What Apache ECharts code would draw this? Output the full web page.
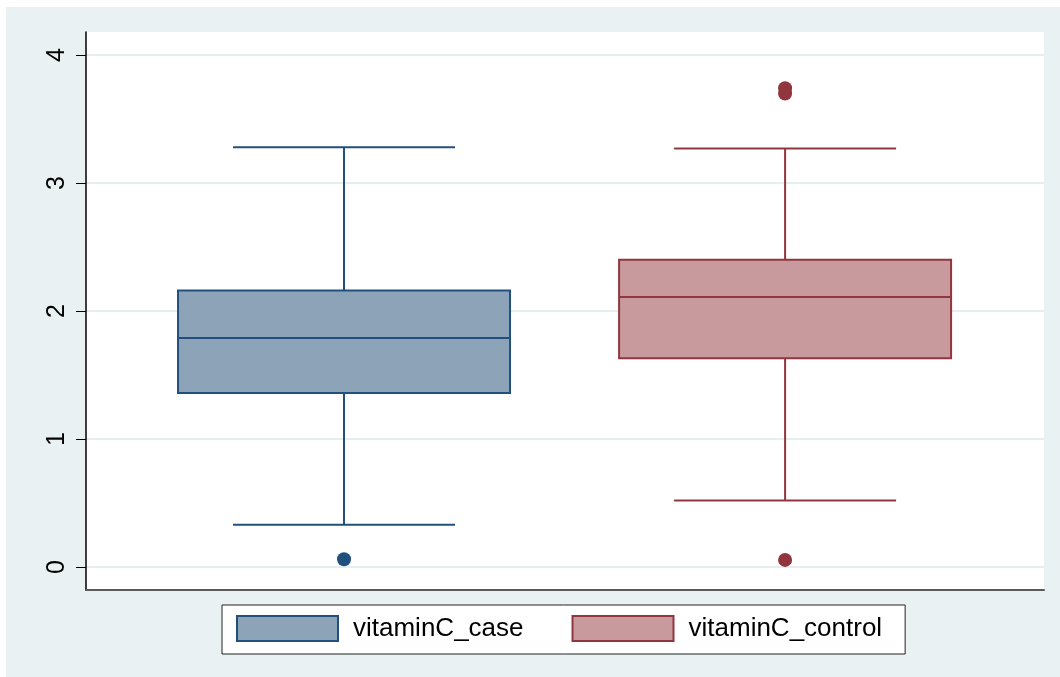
<!DOCTYPE html>
<html>
<head>
<meta charset="utf-8">
<script src="https://cdn.jsdelivr.net/npm/echarts@6/dist/echarts.min.js"></script>
<style>
  html, body { margin: 0; padding: 0; background: #ffffff; }
  #main { position: absolute; left: 6px; top: 7px; width: 1054px; height: 670px; }
</style>
</head>
<body>
<div id="main"></div>
<script>
// data
var categories = ['vitaminC_case', 'vitaminC_control'];
var lowerWhisker = [0.33, 0.52];
var q1 = [1.36, 1.63];
var median = [1.79, 2.11];
var q3 = [2.16, 2.40];
var upperWhisker = [3.28, 3.27];
var outliersCase = [0.06];
var outliersControl = [3.74, 3.70, 0.055];
var yTicks = [0, 1, 2, 3, 4];

var fills = ['#8da4b8', '#c99a9d'];
var lines = ['#22507e', '#91363e'];

function boxItem(i) {
    return [i, lowerWhisker[i], q1[i], median[i], q3[i], upperWhisker[i]];
}

function renderBox(params, api) {
    var x = api.value(0);
    var pLow = api.coord([x, api.value(1)]);
    var pQ1 = api.coord([x, api.value(2)]);
    var pMed = api.coord([x, api.value(3)]);
    var pQ3 = api.coord([x, api.value(4)]);
    var pHigh = api.coord([x, api.value(5)]);
    var cx = pMed[0];
    var half = 166, cap = 111;
    var color = lines[x];
    var ls = { stroke: color, lineWidth: 2 };
    return {
        type: 'group',
        children: [
            { type: 'line', shape: { x1: cx, y1: pQ3[1], x2: cx, y2: pHigh[1] }, style: ls },
            { type: 'line', shape: { x1: cx, y1: pQ1[1], x2: cx, y2: pLow[1] }, style: ls },
            { type: 'line', shape: { x1: cx - cap, y1: pHigh[1], x2: cx + cap, y2: pHigh[1] }, style: ls },
            { type: 'line', shape: { x1: cx - cap, y1: pLow[1], x2: cx + cap, y2: pLow[1] }, style: ls },
            { type: 'rect', shape: { x: cx - half, y: pQ3[1], width: half * 2, height: pQ1[1] - pQ3[1] },
              style: { fill: fills[x], stroke: color, lineWidth: 2 } },
            { type: 'line', shape: { x1: cx - half, y1: pMed[1], x2: cx + half, y2: pMed[1] }, style: ls }
        ]
    };
}

var chart = echarts.init(document.getElementById('main'));

var option = {
    backgroundColor: '#e9f1f3',
    animation: false,
    grid: {
        left: 80, top: 25, right: 16, bottom: 87,
        show: true, backgroundColor: '#ffffff', borderWidth: 0
    },
    xAxis: {
        type: 'value',
        min: -0.585,
        max: 1.587,
        axisLine: { show: true, onZero: false, lineStyle: { color: '#5a5a5a', width: 2 } },
        axisTick: { show: false },
        axisLabel: { show: false },
        splitLine: { show: false }
    },
    yAxis: {
        type: 'value',
        min: -0.18,
        max: 4.18,
        axisLine: { show: true, onZero: false, lineStyle: { color: '#000000', width: 1.5 } },
        axisTick: { show: true, length: 10, customValues: yTicks, lineStyle: { color: '#000000', width: 1 } },
        axisLabel: {
            customValues: yTicks,
            rotate: 90,
            margin: 16,
            color: '#000000',
            fontSize: 25,
            fontFamily: 'Liberation Sans, Arial, sans-serif'
        },
        splitLine: { show: true, lineStyle: { color: '#e6eef0', width: 2 } }
    },
    legend: {
        left: 216,
        top: 598,
        orient: 'horizontal',
        backgroundColor: '#ffffff',
        borderColor: '#222222',
        borderWidth: 1,
        padding: [10, 23, 12, 14],
        itemWidth: 101,
        itemHeight: 25,
        itemGap: 48,
        icon: 'rect',
        textStyle: {
            color: '#000000',
            fontSize: 26,
            fontFamily: 'Liberation Sans, Arial, sans-serif',
            padding: [0, 0, 0, 10]
        },
        data: [
            { name: categories[0], itemStyle: { color: fills[0], borderColor: lines[0], borderWidth: 2 } },
            { name: categories[1], itemStyle: { color: fills[1], borderColor: lines[1], borderWidth: 2 } }
        ]
    },
    series: [
        {
            name: categories[0],
            type: 'custom',
            renderItem: renderBox,
            encode: { x: 0, y: [1, 2, 3, 4, 5] },
            itemStyle: { color: fills[0] },
            data: [boxItem(0)]
        },
        {
            name: categories[1],
            type: 'custom',
            renderItem: renderBox,
            encode: { x: 0, y: [1, 2, 3, 4, 5] },
            itemStyle: { color: fills[1] },
            data: [boxItem(1)]
        },
        {
            name: categories[0],
            type: 'scatter',
            symbolSize: 14,
            itemStyle: { color: lines[0], opacity: 1 },
            data: outliersCase.map(function (v) { return [0, v]; })
        },
        {
            name: categories[1],
            type: 'scatter',
            symbolSize: 14,
            itemStyle: { color: lines[1], opacity: 1 },
            data: outliersControl.map(function (v) { return [1, v]; })
        }
    ]
};

chart.setOption(option);
</script>
</body>
</html>
